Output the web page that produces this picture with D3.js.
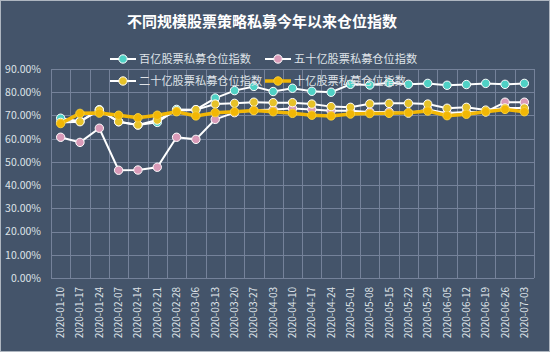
<!DOCTYPE html>
<html>
<head>
<meta charset="utf-8">
<script src="https://cdn.jsdelivr.net/npm/d3@7"></script>
<style>
  body { margin: 0; background: #44546a; }
  svg { display: block; }
  text { font-family: "Noto Sans CJK SC", "Noto Sans", sans-serif; }
</style>
</head>
<body>
<div id="chart"></div>
<script>
// categories (weekly dates)
const dates = ["2020-01-10","2020-01-17","2020-01-24","2020-02-07","2020-02-14","2020-02-21",
  "2020-02-28","2020-03-06","2020-03-13","2020-03-20","2020-03-27","2020-04-03","2020-04-10",
  "2020-04-17","2020-04-24","2020-05-01","2020-05-08","2020-05-15","2020-05-22","2020-05-29",
  "2020-06-05","2020-06-12","2020-06-19","2020-06-26","2020-07-03"];

// series values (%)
const bai = [68.8,67.5,72.5,67.3,65.9,67.0,72.6,72.5,77.5,80.7,82.5,80.3,81.7,80.4,80.0,
  83.4,83.1,84.1,83.4,83.8,83.0,83.3,83.8,83.4,83.8];
const wushi = [60.6,58.4,64.5,46.4,46.5,47.7,60.6,59.7,68.3,71.2,72.2,72.6,73.0,72.6,72.0,
  72.0,71.5,71.5,71.0,72.5,71.0,71.5,71.5,75.7,75.7];
const ershi = [67.0,67.3,72.3,67.3,65.9,68.0,72.0,72.5,74.9,75.2,75.7,75.5,75.5,74.9,73.8,
  73.5,75.0,75.2,75.2,74.9,73.1,73.5,72.3,73.2,73.2];
const shi = [66.5,70.9,71.0,70.1,69.0,70.1,71.6,69.8,71.2,71.6,72.1,71.6,70.9,70.1,69.8,
  70.6,70.8,70.9,71.2,71.9,69.9,70.5,71.6,72.6,71.6];

const seriesNames = ["百亿股票私募仓位指数","五十亿股票私募仓位指数","二十亿股票私募仓位指数","十亿股票私募仓位指数"];
const yTicks = [0,10,20,30,40,50,60,70,80,90];
const title = "不同规模股票策略私募今年以来仓位指数";

const W = 550, H = 352;
const margin = {top: 69, right: 16, bottom: 74, left: 51};

const svg = d3.select("#chart").append("svg")
  .attr("width", W).attr("height", H);

svg.append("rect")
  .attr("x", 0.5).attr("y", 0.5).attr("width", W - 1).attr("height", H - 1)
  .attr("fill", "#44546a").attr("stroke", "#aeb6c0");

const x = d3.scaleBand().domain(dates).range([margin.left, W - margin.right]);
const y = d3.scaleLinear().domain([0, 90]).range([H - margin.bottom, margin.top]);

// grid
const grid = svg.append("g").attr("stroke", "#75829a").attr("stroke-width", 1);
grid.selectAll(".h").data(yTicks).join("line")
  .attr("x1", margin.left).attr("x2", W - margin.right)
  .attr("y1", d => Math.round(y(d)) + 0.5).attr("y2", d => Math.round(y(d)) + 0.5);
grid.selectAll(".v").data(dates.concat([null])).join("line")
  .attr("x1", (d, i) => Math.round(margin.left + i * x.bandwidth()) + 0.5)
  .attr("x2", (d, i) => Math.round(margin.left + i * x.bandwidth()) + 0.5)
  .attr("y1", margin.top).attr("y2", H - margin.bottom);

// y axis
const yAxis = d3.axisLeft(y).tickValues(yTicks).tickSize(0).tickPadding(10)
  .tickFormat(d => d.toFixed(2) + "%");
const gy = svg.append("g").attr("transform", `translate(${margin.left},0)`).call(yAxis);
gy.select(".domain").remove();
gy.selectAll("text").attr("fill", "#dfe3e8").attr("font-size", 10.5)
  .attr("font-family", "'Liberation Sans', Arial, sans-serif");

// x axis
const xAxis = d3.axisBottom(x).tickSize(0).tickPadding(0);
const gx = svg.append("g").attr("transform", `translate(0,${H - margin.bottom})`).call(xAxis);
gx.select(".domain").remove();
gx.selectAll("text")
  .attr("fill", "#dfe3e8").attr("font-size", 10)
  .attr("font-family", "'Liberation Sans', Arial, sans-serif")
  .attr("text-anchor", "end")
  .attr("dy", "0.35em")
  .attr("transform", "translate(0,9) rotate(-90)");

// series
const series = [
  {name: seriesNames[0], values: bai, line: "#ffffff", lw: 2, marker: "#4fd1c5", mstroke: "#ffffff"},
  {name: seriesNames[1], values: wushi, line: "#ffffff", lw: 2, marker: "#d99ab8", mstroke: "#ffffff"},
  {name: seriesNames[2], values: ershi, line: "#ffffff", lw: 2, marker: "#e6c229", mstroke: "#ffffff"},
  {name: seriesNames[3], values: shi, line: "#f2b705", lw: 3.5, marker: "#f2b705", mstroke: "#f7cf3a"}
];

const line = d3.line()
  .x((d, i) => x(dates[i]) + x.bandwidth() / 2)
  .y(d => y(d));

series.forEach(s => {
  const g = svg.append("g");
  g.append("path").datum(s.values)
    .attr("fill", "none").attr("stroke", s.line).attr("stroke-width", s.lw)
    .attr("d", line);
  g.selectAll("circle").data(s.values).join("circle")
    .attr("cx", (d, i) => x(dates[i]) + x.bandwidth() / 2)
    .attr("cy", d => y(d))
    .attr("r", 4.2)
    .attr("fill", s.marker).attr("stroke", s.mstroke).attr("stroke-width", 1);
});

// legend
const legendPos = [[110, 59], [265, 59], [110, 81], [265, 81]];
series.forEach((s, i) => {
  const [lx, ly] = legendPos[i];
  const g = svg.append("g").attr("transform", `translate(${lx},${ly})`);
  g.append("line").attr("x1", 0).attr("x2", 26).attr("y1", 0).attr("y2", 0)
    .attr("stroke", s.line).attr("stroke-width", s.lw);
  g.append("circle").attr("cx", 13).attr("cy", 0).attr("r", 4.2)
    .attr("fill", s.marker).attr("stroke", s.mstroke).attr("stroke-width", 1);
  g.append("text").attr("x", 29).attr("y", 0).attr("dy", "0.35em")
    .attr("fill", "#dfe3e8").attr("font-size", 11.2).text(s.name);
});

// title
svg.append("text")
  .attr("x", 262).attr("y", 22).attr("dy", "0.35em")
  .attr("text-anchor", "middle")
  .attr("fill", "#ffffff").attr("font-size", 15).attr("font-weight", "bold")
  .text(title);
</script>
</body>
</html>
